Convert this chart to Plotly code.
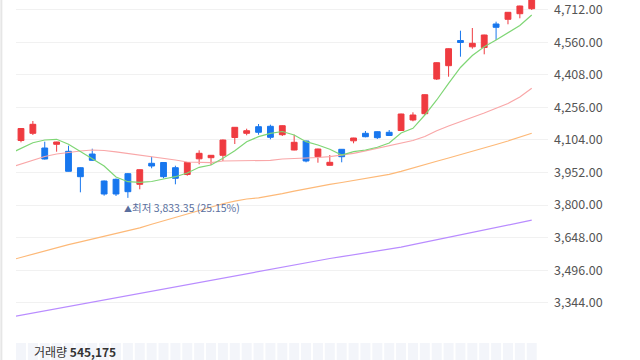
import plotly.graph_objects as go

# ---- data ----
idx = list(range(44))
open_ = [4101.2, 4134.8, 4066.2, 4083.4, 4050.8, 3974.2, 4038.1, 3912.1, 3920.0, 3946.2, 3896.7,
         3994.7, 3998.5, 3974.2, 3942.4, 4015.7, 4020.9, 4032.1, 4115.2, 4134.8, 4165.6, 4167.5,
         4128.3, 4056.8, 4098.8, 4025.5, 3985.4, 4060.1, 4099.8, 4134.8, 4142.3, 4139.5, 4147.9,
         4196.9, 4226.3, 4388.3, 4450.4, 4568.0, 4538.6, 4535.3, 4645.1, 4667.0, 4693.1, 4716.5]
high = [4159.0, 4192.2, 4095.6, 4095.1, 4076.9, 3976.1, 4062.9, 3914.4, 3923.8, 3949.5, 3965.8,
        4025.6, 4000.8, 3983.5, 4000.8, 4055.4, 4033.5, 4105.8, 4164.2, 4156.3, 4178.2, 4175.0,
        4172.1, 4128.3, 4100.2, 4062.9, 4033.5, 4061.5, 4113.8, 4145.5, 4144.1, 4150.2, 4226.3,
        4232.8, 4316.9, 4466.3, 4531.6, 4613.8, 4626.4, 4595.1, 4655.8, 4701.1, 4730.5, 4800.0]
low = [4092.8, 4126.9, 4012.5, 4048.9, 3956.5, 3859.3, 4006.4, 3843.5, 3842.1, 3833.35, 3873.4,
       3971.4, 3924.7, 3896.7, 3936.9, 3990.1, 3986.8, 4005.4, 4084.8, 4125.5, 4128.3, 4106.8,
       4122.2, 4055.4, 3999.4, 3997.5, 3984.5, 3999.4, 4088.1, 4116.1, 4108.2, 4122.2, 4145.5,
       4190.8, 4220.2, 4383.6, 4399.0, 4492.4, 4529.7, 4503.6, 4570.4, 4643.7, 4671.7, 4710.4]
close = [4157.2, 4176.8, 4014.8, 4094.2, 3957.4, 3932.2, 4008.7, 3851.4, 3851.4, 3862.2, 3964.9,
         3982.1, 3932.2, 3924.7, 3998.5, 4041.4, 4032.1, 4103.5, 4162.8, 4146.9, 4139.5, 4116.1,
         4170.3, 4092.8, 4005.5, 4061.5, 3999.4, 4025.5, 4112.8, 4118.9, 4114.2, 4124.5, 4224.9,
         4220.2, 4315.0, 4464.4, 4529.7, 4558.7, 4554.9, 4593.7, 4629.6, 4699.7, 4729.1, 4797.0]

ma_idx = list(range(-1, 44))
ma5 = [4038.2, 4064.8, 4090.9, 4103.5, 4106.8, 4083.4, 4049.0, 4018.1, 3982.1, 3930.8, 3908.8,
       3906.0, 3909.8, 3921.4, 3932.2, 3949.5, 3976.1, 3986.8, 4018.1, 4053.6, 4095.6, 4119.0,
       4134.8, 4143.2, 4126.9, 4095.6, 4080.2, 4060.1, 4033.5, 4049.0, 4056.8, 4069.5, 4089.5,
       4136.2, 4158.1, 4220.2, 4290.3, 4368.2, 4442.0, 4498.0, 4539.1, 4570.4, 4605.4, 4638.1, 4687.1]
ma20 = [3973.3, 3991.5, 4011.1, 4026.5, 4038.1, 4046.1, 4052.2, 4056.8, 4054.5, 4048.4, 4041.4,
        4032.1, 4026.5, 4018.1, 4010.1, 4000.8, 3997.5, 3997.5, 4005.5, 4006.9, 4006.9, 4007.8,
        4008.7, 4014.8, 4016.2, 4018.1, 4021.8, 4025.5, 4033.5, 4041.4, 4053.1, 4064.8, 4075.5,
        4087.2, 4101.2, 4119.9, 4146.5, 4168.9, 4188.5, 4208.6, 4229.6, 4251.5, 4274.1, 4304.3, 4344.9]
ma60 = [3540.5, 3555.9, 3571.3, 3586.3, 3601.2, 3615.2, 3627.8, 3640.4, 3652.5, 3665.1, 3677.7,
        3693.6, 3710.4, 3726.8, 3743.1, 3759.4, 3775.3, 3791.6, 3806.1, 3817.8, 3828.1, 3833.7,
        3842.1, 3853.3, 3864.5, 3875.7, 3886.9, 3896.3, 3905.1, 3914.0, 3923.3, 3932.6, 3942.9,
        3956.9, 3973.7, 3989.1, 4004.5, 4019.5, 4034.4, 4049.8, 4066.2, 4082.5, 4098.8, 4116.6, 4134.8]
ma120 = [3275.8, 3286.0, 3296.3, 3306.6, 3316.9, 3327.1, 3337.4, 3347.2, 3357.5, 3367.8, 3378.1,
         3388.3, 3398.6, 3408.9, 3419.2, 3429.4, 3439.3, 3449.5, 3459.8, 3470.1, 3480.4, 3490.6,
         3500.9, 3511.2, 3521.5, 3531.2, 3541.4, 3550.3, 3558.7, 3567.1, 3575.5, 3583.4, 3592.3,
         3603.5, 3614.7, 3625.9, 3637.1, 3648.3, 3659.6, 3671.2, 3682.9, 3694.6, 3706.2, 3717.9, 3729.6]

# volume panel: only the clipped tops of the bars are visible
volume = [612000, 655000, 702000, 598000, 741000, 688000, 574000, 803000, 716000, 759000, 634000,
          561000, 587000, 622000, 548000, 593000, 511000, 640000, 677000, 532000, 556000, 519000,
          571000, 604000, 583000, 538000, 509000, 562000, 595000, 527000, 541000, 516000, 668000,
          603000, 719000, 842000, 781000, 905000, 736000, 692000, 754000, 681000, 627000, 545175]

tick_vals = [3344, 3496, 3648, 3800, 3952, 4104, 4256, 4408, 4560, 4712]
tick_text = ["3,344.00", "3,496.00", "3,648.00", "3,800.00", "3,952.00",
             "4,104.00", "4,256.00", "4,408.00", "4,560.00", "4,712.00"]

low_label = "최저 3,833.35 (25.15%)"
vol_label_name = "거래량"
vol_label_value = "545,175"

RED = "#ef3b40"
BLUE = "#1877ee"
FONT = "Noto Sans CJK KR, Noto Sans, sans-serif"

W, H = 640, 360
L, R = 16, 92
plot_w = W - L - R

fig = go.Figure()

fig.add_trace(go.Bar(x=idx, y=volume, marker=dict(color="#f3f5fa", line=dict(width=0)),
                     yaxis="y2", hoverinfo="skip", showlegend=False))

for vals, col in [(ma120, "#b98cff"), (ma60, "#fdb978"), (ma20, "#f9a7a8"), (ma5, "#7fd675")]:
    fig.add_trace(go.Scatter(x=ma_idx, y=vals, mode="lines", line=dict(color=col, width=1.2),
                             showlegend=False, hoverinfo="skip"))

fig.add_trace(go.Candlestick(
    x=idx, open=open_, high=high, low=low, close=close,
    increasing=dict(line=dict(color=RED, width=1), fillcolor=RED),
    decreasing=dict(line=dict(color=BLUE, width=1), fillcolor=BLUE),
    whiskerwidth=0, showlegend=False))

fig.add_annotation(x=9, y=3833.35, xref="x", yref="y", showarrow=False,
                   xanchor="left", yanchor="top", xshift=-6, yshift=0,
                   text="<span style='font-size:8px'>▲</span>" + low_label,
                   font=dict(family=FONT, size=10.5, color="#5a6f9e"))

fig.add_annotation(x=(32 - L) / plot_w, y=(H - 341) / H, xref="paper", yref="paper",
                   showarrow=False, xanchor="left", yanchor="top",
                   text=vol_label_name + " <b>" + vol_label_value + "</b>",
                   font=dict(family=FONT, size=12, color="#333333"))

# left border line
fig.add_shape(type="line", xref="paper", yref="paper", x0=-0.0275, x1=-0.0275, y0=0, y1=1,
              line=dict(color="#e6e6e6", width=2))

fig.update_layout(
    width=W, height=H,
    margin=dict(l=L, r=R, t=0, b=0),
    paper_bgcolor="white", plot_bgcolor="white",
    font=dict(family=FONT, color="#555555", size=12),
    showlegend=False,
    bargap=0.16,
    xaxis=dict(range=[-0.42, 44.37], showgrid=False, zeroline=False, showticklabels=False,
               rangeslider=dict(visible=False), showline=False, fixedrange=True),
    yaxis=dict(domain=[(H - 335) / H, 1.0], range=[3193.2, 4757.1], side="right",
               tickvals=tick_vals, ticktext=tick_text, showgrid=True, gridcolor="#f1f1f1",
               gridwidth=1, zeroline=False, showline=False, ticks="", ticklabelstandoff=5,
               ticklabeloverflow="allow",
               tickfont=dict(family=FONT, size=12.5, color="#555555")),
    yaxis2=dict(domain=[0, (H - 343) / H], range=[0, 100000], showgrid=False, zeroline=False,
                showticklabels=False, showline=False),
)

fig.write_html("out.html", config={"displayModeBar": False},
               post_script="document.body.style.margin='0';document.body.style.overflow='hidden';")
